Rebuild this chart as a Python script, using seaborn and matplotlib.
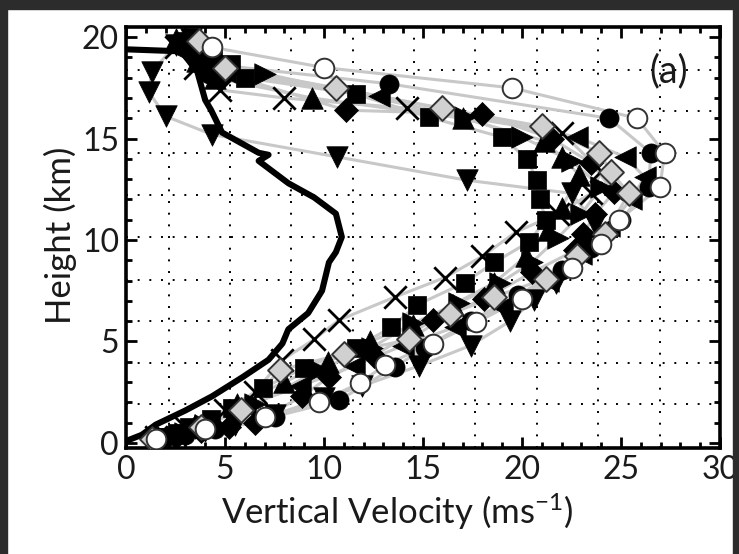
import numpy as np
import pandas as pd
import matplotlib
matplotlib.use("Agg")
import matplotlib.pyplot as plt
from matplotlib.patches import Rectangle
from matplotlib.ticker import MultipleLocator
import seaborn as sns

sns.set_theme(style="white")
plt.rcParams['font.family'] = ['Lato', 'DejaVu Sans']
plt.rcParams['mathtext.fontset'] = 'custom'
plt.rcParams['mathtext.rm'] = 'Lato'
plt.rcParams['mathtext.it'] = 'Lato:italic'

# ---------------- data (vertical velocity w [m/s], height z [km]) ----------------
x_tick_labels = ["0", "5", "10", "15", "20", "25", "30"]
y_tick_labels = ["0", "5", "10", "15", "20"]
panel_label = "(a)"

mean_w = [0, 2.8, 3.6, 4.0, 4.3, 4.85, 6.7, 7.2, 6.7, 8.2, 9.5, 10.6, 10.9, 10.6,
          10.25, 9.9, 9.2, 8.2, 7.9, 7.2, 5.9, 4.35, 3.0, 1.5, 0.8, 0.15, 0]
mean_z = [19.4, 19.3, 18.3, 16.9, 16.4, 15.3, 14.3, 14.2, 13.9, 12.8, 12.1, 11.3, 10.15, 9.4,
          8.9, 7.5, 6.4, 5.6, 4.9, 4.1, 3.25, 2.3, 1.6, 0.9, 0.4, 0.15, 0.05]

x_w = [1.5, 3.0, 5.0, 6.5, 7.9, 9.5, 10.75, 13.6, 16.1, 18.0, 19.7, 21.8, 23.5, 24.0, 22.0, 14.2, 8.0, 4.75, 3.5, 2.5]
x_z = [0.3, 0.8, 1.6, 2.5, 4.1, 5.1, 6.05, 7.2, 8.15, 9.2, 10.4, 11.3, 12.3, 13.4, 15.3, 16.5, 17.0, 17.4, 18.5, 19.5]

sq_w = [1.8, 2.6, 3.2, 4.3, 5.35, 6.9, 9.0, 11.6, 13.4, 14.7, 17.1, 18.6, 20.35, 21.2, 20.9, 20.75, 20.25, 19.0, 15.3, 11.6, 6.0, 5.3, 4.4, 3.0]
sq_z = [0.3, 0.5, 0.8, 1.2, 1.7, 2.7, 3.7, 4.7, 5.7, 6.8, 7.9, 8.9, 9.9, 11.0, 12.0, 12.95, 14.0, 15.07, 16.05, 17.2, 18.0, 18.7, 19.0, 19.8]

oc_w = [1.5, 4.0, 7.0, 9.75, 11.8, 13.1, 15.5, 17.7, 20.0, 22.5, 24.0, 24.9, 26.97, 27.2, 25.8, 19.5, 10.0, 4.35]
oc_z = [0.2, 0.7, 1.3, 2.0, 2.95, 3.85, 4.9, 5.95, 7.1, 8.6, 9.8, 11.0, 12.6, 14.3, 16.0, 17.5, 18.5, 19.5]

fc_w = [1.8, 3.0, 4.5, 7.5, 10.75, 13.6, 15.1, 17.4, 19.8, 22.0, 23.5, 25.0, 26.4, 26.5, 24.4, 13.3, 5.0, 4.2, 3.5]
fc_z = [0.2, 0.4, 0.7, 1.3, 2.1, 3.75, 4.7, 6.0, 7.3, 8.5, 9.6, 11.0, 12.6, 14.3, 16.0, 17.7, 18.6, 18.2, 19.4]

od_w = [1.3, 3.8, 5.8, 7.8, 11.0, 14.3, 16.35, 18.6, 21.2, 22.8, 24.2, 25.4, 24.5, 23.9, 21.0, 15.95, 10.6, 5.0, 3.7]
od_z = [0.2, 0.8, 1.6, 3.6, 4.4, 5.1, 6.35, 7.2, 8.1, 9.2, 10.3, 12.3, 13.35, 14.3, 15.6, 16.5, 17.5, 18.5, 19.8]

tu_w = [1.6, 3.5, 5.6, 8.0, 10.2, 12.3, 14.5, 16.5, 18.6, 20.2, 21.3, 22.0, 22.9, 22.0, 21.1, 17.0, 9.4, 4.5, 3.6, 2.5]
tu_z = [0.3, 0.9, 1.9, 3.0, 4.0, 5.0, 5.8, 6.8, 7.9, 9.2, 10.5, 11.6, 13.2, 14.1, 14.9, 16.0, 17.0, 18.0, 18.8, 19.9]

tr_w = [2.0, 3.0, 4.0, 6.5, 9.75, 12.4, 14.5, 16.8, 18.9, 20.5, 21.8, 23.0, 24.0, 22.5, 20.0, 17.1, 7.0, 5.2, 4.0]
tr_z = [0.3, 0.5, 0.9, 1.9, 3.6, 4.7, 5.9, 6.9, 7.9, 8.9, 10.1, 11.3, 12.6, 13.9, 15.07, 16.05, 18.2, 18.6, 19.0]

tl_w = [1.6, 2.6, 3.8, 6.0, 8.8, 11.5, 14.0, 16.6, 19.0, 21.3, 23.0, 24.4, 25.5, 26.2, 25.2, 22.8, 12.8, 5.0, 4.2, 3.0]
tl_z = [0.25, 0.5, 0.9, 1.8, 2.8, 3.8, 4.8, 5.7, 6.7, 8.0, 9.3, 10.7, 12.0, 13.1, 14.1, 15.07, 17.1, 18.3, 18.8, 19.2]

fd_w = [1.5, 2.5, 3.8, 5.2, 6.5, 8.9, 10.25, 12.5, 15.5, 18.1, 20.5, 22.7, 23.1, 23.7, 24.65, 23.5, 21.5, 18.0, 11.1, 5.0, 4.3, 3.5]
fd_z = [0.15, 0.3, 0.6, 0.8, 1.0, 2.3, 3.25, 4.3, 6.05, 7.1, 8.4, 9.5, 10.3, 11.3, 12.35, 13.8, 15.0, 16.2, 16.4, 18.2, 18.7, 19.3]

td_w = [1.5, 2.6, 4.0, 5.5, 7.5, 10.0, 11.9, 14.8, 17.4, 19.4, 20.6, 21.7, 23.0, 23.7, 22.5, 17.2, 10.65, 4.35, 2.0, 1.15, 1.3, 2.5, 3.3]
td_z = [0.2, 0.3, 0.6, 0.9, 1.4, 2.2, 2.8, 3.8, 4.8, 6.0, 7.05, 7.9, 9.3, 10.8, 12.3, 12.95, 14.1, 15.2, 16.1, 17.3, 18.3, 19.6, 19.9]

series = {
    "x": (x_w, x_z), "sq": (sq_w, sq_z), "oc": (oc_w, oc_z), "fc": (fc_w, fc_z),
    "od": (od_w, od_z), "tu": (tu_w, tu_z), "tr": (tr_w, tr_z), "tl": (tl_w, tl_z),
    "fd": (fd_w, fd_z), "td": (td_w, td_z),
}
frames = []
for name, (w, z) in series.items():
    frames.append(pd.DataFrame({"series": name, "w": w, "z": z, "order": range(len(w))}))
df = pd.concat(frames, ignore_index=True)

# marker styles: (marker, size s, face, edge, linewidth)
styles = {
    "td": ("v", 240, "black", "black", 0.5),
    "tu": ("^", 240, "black", "black", 0.5),
    "tr": (">", 240, "black", "black", 0.5),
    "tl": ("<", 240, "black", "black", 0.5),
    "sq": ("s", 185, "black", "black", 0.5),
    "fd": ("D", 150, "black", "black", 0.5),
    "fc": ("o", 190, "black", "black", 0.5),
    "od": ("D", 160, "#d0d0d0", "#333333", 1.4),
    "oc": ("o", 200, "white", "#333333", 1.4),
    "x":  ("x", 260, "black", "black", 2.0),
}

# ---------------- figure ----------------
W, H = 739, 554
fig = plt.figure(figsize=(W / 100, H / 100), dpi=100, facecolor="white")
ax = fig.add_axes([126 / W, 106 / H, (720 - 126) / W, (527 - 106) / H])
ax.set_facecolor("white")

# dotted grid
for gx in [2.15, 5.25, 8.35, 11.45, 14.55, 17.65, 20.75, 23.85, 26.95]:
    ax.axvline(gx, color="black", lw=1.4, ls=(0, (1, 5)), zorder=0.5)
for gy in [1.9, 3.95, 6.0, 8.05, 10.15, 12.2, 14.3, 16.35, 18.4]:
    ax.axhline(gy, color="black", lw=1.4, ls=(0, (1, 5)), zorder=0.5)

sns.lineplot(data=df, x="w", y="z", units="series", estimator=None, sort=False,
             color="#c8c8c8", lw=2.2, ax=ax, zorder=1, legend=False)

sns.lineplot(x=mean_w, y=mean_z, sort=False, estimator=None, color="black",
             lw=4.4, ax=ax, zorder=2, legend=False)

for name in ["td", "x", "sq", "tu", "tr", "tl", "fd", "fc", "od", "oc"]:
    m, s, fc, ec, lw = styles[name]
    sub = df[df.series == name]
    if m == "x":
        sns.scatterplot(data=sub, x="w", y="z", marker=m, s=s, color=fc,
                        linewidth=lw, ax=ax, zorder=3, legend=False)
    else:
        sns.scatterplot(data=sub, x="w", y="z", marker=m, s=s, color=fc,
                        edgecolor=ec, linewidth=lw, ax=ax, zorder=3, legend=False)

ax.set_xlim(0, 30)
ax.set_ylim(-0.25, 20.5)
ax.set_xticks([0, 5, 10, 15, 20, 25, 30])
ax.set_xticklabels(x_tick_labels)
ax.set_yticks([0, 5, 10, 15, 20])
ax.set_yticklabels(y_tick_labels)
ax.xaxis.set_minor_locator(MultipleLocator(1))
ax.yaxis.set_minor_locator(MultipleLocator(1))
ax.tick_params(which="both", direction="in", top=True, right=True, bottom=True, left=True,
               width=2, colors="black", labelcolor="#1a1a1a", labelsize=23)
ax.tick_params(axis="x", pad=5)
ax.tick_params(axis="y", pad=5)
ax.tick_params(which="major", length=8)
ax.tick_params(which="minor", length=4)
for sp in ax.spines.values():
    sp.set_color("black")
    sp.set_linewidth(2.6)
    sp.set_visible(True)

ax.set_xlabel(r"Vertical Velocity (ms$^{-1}$)", fontsize=25, color="#1a1a1a")
ax.xaxis.set_label_coords(0.456, -0.105)
ax.set_ylabel("Height (km)", fontsize=25, color="#1a1a1a")
ax.yaxis.set_label_coords(-0.082, 0.505)
ax.text(27.4, 18.3, panel_label, fontsize=27, ha="center", va="center", color="#1a1a1a", zorder=5)

# dark frame around the picture
dark = "#2c2c2c"
fig.patches.append(Rectangle((0, 0), 7 / W, 1, transform=fig.transFigure, color=dark, zorder=10))
fig.patches.append(Rectangle((0, 1 - 9 / H), 1, 9 / H, transform=fig.transFigure, color=dark, zorder=10))
fig.patches.append(Rectangle((1 - 6 / W, 0), 6 / W, 1, transform=fig.transFigure, color=dark, zorder=10))

fig.savefig("out.png", dpi=100, facecolor="white")
